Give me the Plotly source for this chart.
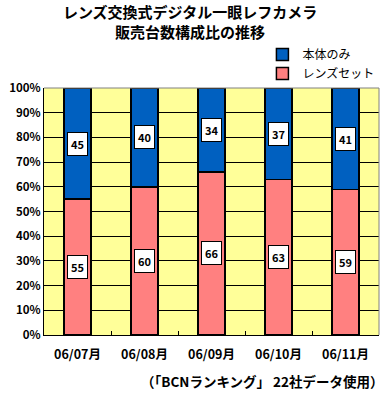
import plotly.graph_objects as go

categories = ["06/07月", "06/08月", "06/09月", "06/10月", "06/11月"]
lens_set = [55, 60, 66, 63, 59]
body_only = [45, 40, 34, 37, 41]
y_ticks = [0, 10, 20, 30, 40, 50, 60, 70, 80, 90, 100]
y_tick_labels = [f"{v}%" for v in y_ticks]

FONT = "Noto Sans CJK JP"

fig = go.Figure()
fig.add_trace(go.Bar(x=categories, y=lens_set, name="レンズセット",
                     marker=dict(color="#FF8080", line=dict(color="black", width=1.5)),
                     width=0.4))
fig.add_trace(go.Bar(x=categories, y=body_only, name="本体のみ",
                     marker=dict(color="#0060C0", line=dict(color="black", width=1.5)),
                     width=0.4))

annotations = []
for c, a, b in zip(categories, lens_set, body_only):
    for val, mid in ((a, a / 2), (b, a + b / 2)):
        annotations.append(dict(x=c, y=mid, text=f"<b>{val}</b>", showarrow=False,
                                bgcolor="white", bordercolor="black", borderwidth=1,
                                borderpad=3, font=dict(family=FONT, size=11, color="black")))
annotations.append(dict(xref="paper", yref="paper", x=1.02, y=-0.186, xanchor="right",
                        yanchor="middle", showarrow=False,
                        text="<b>（「BCNランキング」 22社データ使用）</b>",
                        font=dict(family=FONT, size=13.5, color="black")))

fig.update_layout(
    width=392, height=393,
    margin=dict(l=44, r=13, t=88, b=58, autoexpand=False),
    barmode="stack",
    paper_bgcolor="white",
    plot_bgcolor="#FFFF99",
    title=dict(text="<b>レンズ交換式デジタル一眼レフカメラ<br>販売台数構成比の推移</b>",
               x=0.485, xanchor="center", y=0.953, yanchor="top", yref="container",
               font=dict(family=FONT, size=15, color="black")),
    legend=dict(x=0.652, y=1.0, xanchor="left", yanchor="bottom", yref="paper",
                traceorder="reversed", bgcolor="rgba(0,0,0,0)",
                font=dict(family=FONT, size=12, color="black"),
                itemwidth=30, tracegroupgap=0),
    annotations=annotations,
    showlegend=True,
)
fig.update_yaxes(range=[0, 100], tickvals=y_ticks, ticktext=[f"<b>{t}</b>" for t in y_tick_labels],
                 showgrid=True, gridcolor="black", gridwidth=1, automargin=False,
                 showline=True, linecolor="black", linewidth=1, ticks="",
                 tickfont=dict(family=FONT, size=11.5, color="black"), zeroline=False)
fig.update_xaxes(showline=True, linecolor="black", linewidth=1, automargin=False,
                 ticks="inside", ticklen=4, tickcolor="black", tickson="boundaries",
                 ticklabelstandoff=8,
                 tickvals=categories, ticktext=[f"<b>{c}</b>" for c in categories],
                 tickfont=dict(family=FONT, size=12.5, color="black"))
fig.add_shape(type="line", xref="paper", yref="paper", x0=0, x1=1, y0=1, y1=1,
              line=dict(color="#808080", width=1))
fig.add_shape(type="line", xref="paper", yref="paper", x0=1, x1=1, y0=0, y1=1,
              line=dict(color="#808080", width=1))
fig.write_html("out.html", config={"displayModeBar": False},
               post_script="document.body.style.margin='0';document.body.style.overflow='hidden';")
